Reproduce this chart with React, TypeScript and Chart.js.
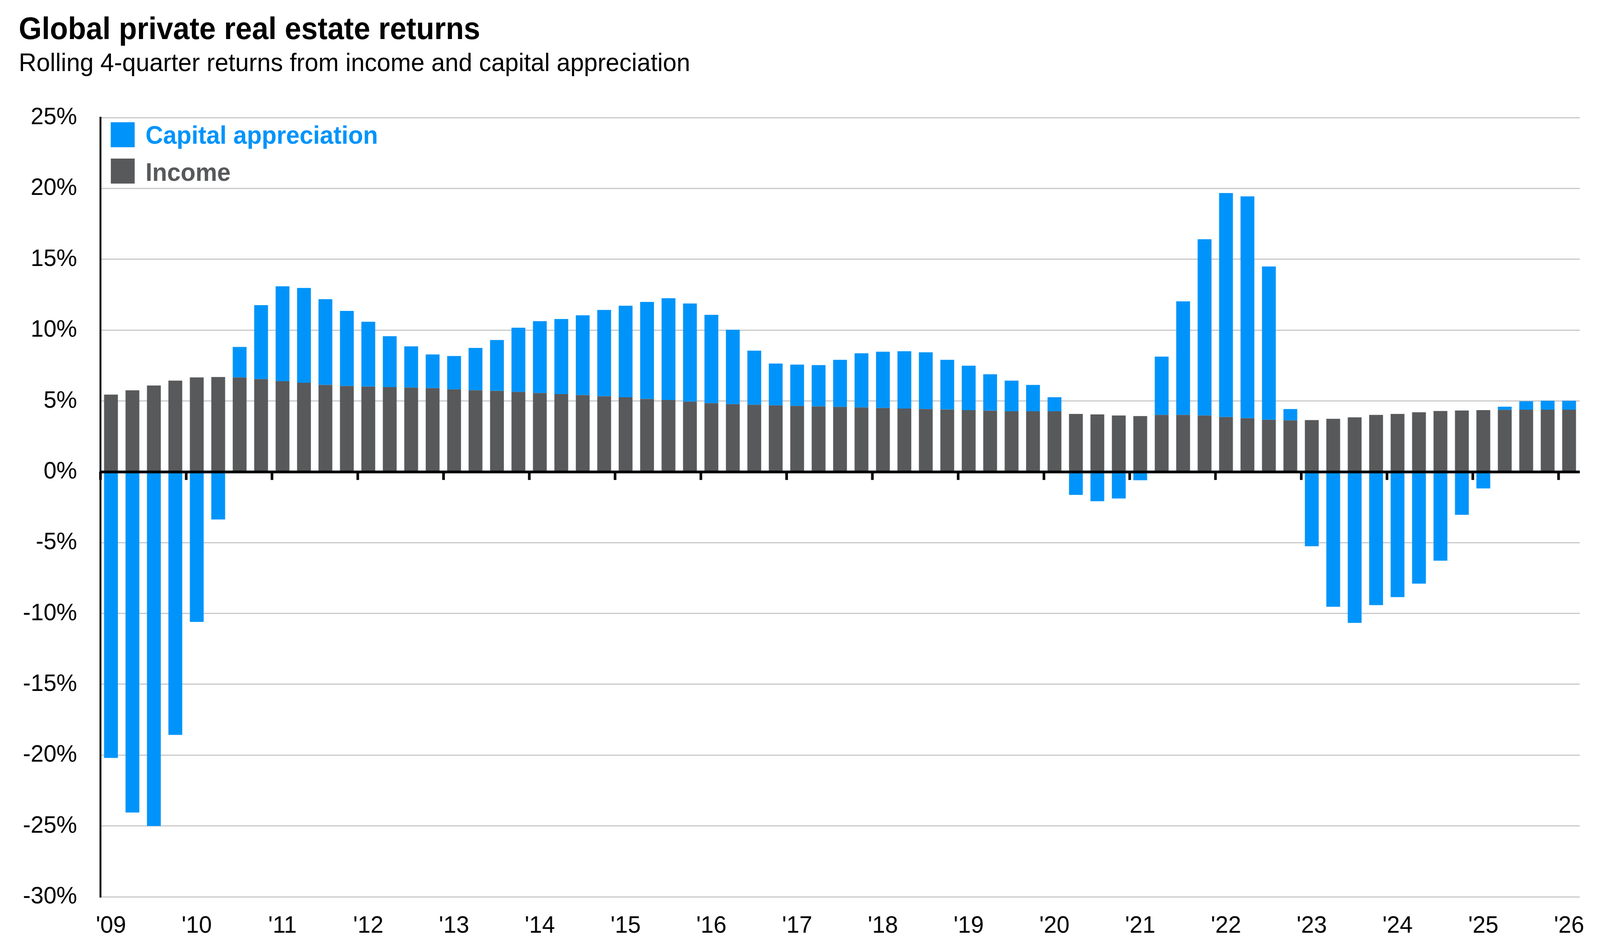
import React, { useEffect, useRef, useState } from "react";
import { Chart, registerables } from "chart.js";

Chart.register(...registerables);

const quarters = [
  "1Q09", "2Q09", "3Q09", "4Q09",
  "1Q10", "2Q10", "3Q10", "4Q10",
  "1Q11", "2Q11", "3Q11", "4Q11",
  "1Q12", "2Q12", "3Q12", "4Q12",
  "1Q13", "2Q13", "3Q13", "4Q13",
  "1Q14", "2Q14", "3Q14", "4Q14",
  "1Q15", "2Q15", "3Q15", "4Q15",
  "1Q16", "2Q16", "3Q16", "4Q16",
  "1Q17", "2Q17", "3Q17", "4Q17",
  "1Q18", "2Q18", "3Q18", "4Q18",
  "1Q19", "2Q19", "3Q19", "4Q19",
  "1Q20", "2Q20", "3Q20", "4Q20",
  "1Q21", "2Q21", "3Q21", "4Q21",
  "1Q22", "2Q22", "3Q22", "4Q22",
  "1Q23", "2Q23", "3Q23", "4Q23",
  "1Q24", "2Q24", "3Q24", "4Q24",
  "1Q25", "2Q25", "3Q25", "4Q25",
  "1Q26",
];

const yearLabels = [
  "'09", "'10", "'11", "'12", "'13", "'14", "'15", "'16", "'17",
  "'18", "'19", "'20", "'21", "'22", "'23", "'24", "'25", "'26",
];

const income = [
  5.45, 5.75, 6.09, 6.43,
  6.66, 6.69, 6.66, 6.54,
  6.39, 6.28, 6.13, 6.05,
  6.01, 5.98, 5.94, 5.90,
  5.82, 5.75, 5.71, 5.64,
  5.56, 5.48, 5.41, 5.33,
  5.26, 5.14, 5.07, 4.95,
  4.84, 4.77, 4.73, 4.69,
  4.65, 4.61, 4.58, 4.54,
  4.50, 4.46, 4.43, 4.39,
  4.35, 4.31, 4.27, 4.27,
  4.27, 4.08, 4.05, 3.97,
  3.93, 4.01, 4.01, 3.97,
  3.86, 3.78, 3.67, 3.63,
  3.65, 3.74, 3.84, 4.01,
  4.08, 4.20, 4.29, 4.32,
  4.35, 4.37, 4.38, 4.38,
  4.38,
];

const capitalAppreciation = [
  -20.2, -24.05, -25.0, -18.57,
  -10.6, -3.37, 2.15, 5.22,
  6.70, 6.69, 6.05, 5.30,
  4.58, 3.59, 2.91, 2.38,
  2.35, 2.99, 3.59, 4.53,
  5.07, 5.30, 5.63, 6.09,
  6.46, 6.85, 7.18, 6.93,
  6.24, 5.25, 3.82, 2.95,
  2.91, 2.92, 3.32, 3.82,
  3.97, 4.05, 4.00, 3.51,
  3.14, 2.57, 2.16, 1.86,
  0.99, -1.63, -2.08, -1.89,
  -0.60, 4.12, 8.02, 12.44,
  15.81, 15.66, 10.82, 0.80,
  -5.26, -9.53, -10.67, -9.41,
  -8.85, -7.90, -6.28, -3.04,
  -1.18, 0.22, 0.60, 0.63,
  0.63,
];

const yMin = -30;
const yMax = 25;
const yStep = 5;

const BLUE = "#0094FA";
const GRAY = "#58595B";
const FONT = "'Liberation Sans', Arial, 'Helvetica Neue', sans-serif";

const seriesLabels = ["Capital appreciation", "Income"];

const W = 4277;
const H = 2422;

const zeroLinePlugin = {
  id: "zeroLineAndTicks",
  afterDatasetsDraw(chart: any) {
    const { ctx, chartArea, scales } = chart;
    const x = scales.x;
    const y = scales.y;
    const y0 = y.getPixelForValue(0);
    ctx.save();
    ctx.fillStyle = "#000000";
    ctx.fillRect(chartArea.left, y0 - 3, chartArea.right - chartArea.left, 7);
    const half = (x.getPixelForValue(1) - x.getPixelForValue(0)) / 2;
    for (let i = 0; i < quarters.length; i += 4) {
      const px = x.getPixelForValue(i) - half;
      ctx.fillRect(px - 3, y0, 7, 21);
    }
    ctx.restore();
  },
};

export default function App() {
  const canvasRef = useRef<HTMLCanvasElement | null>(null);
  const [vp, setVp] = useState({ w: W, h: H });

  useEffect(() => {
    document.body.style.margin = "0";
    document.body.style.overflow = "hidden";
    setVp({ w: window.innerWidth || W, h: window.innerHeight || H });
    const canvas = canvasRef.current;
    if (!canvas) return;
    const chart = new Chart(canvas, {
      type: "bar",
      data: {
        labels: quarters,
        datasets: [
          {
            label: seriesLabels[1],
            data: income,
            backgroundColor: GRAY,
            borderWidth: 0,
            categoryPercentage: 1,
            barPercentage: 0.645,
          },
          {
            label: seriesLabels[0],
            data: capitalAppreciation,
            backgroundColor: BLUE,
            borderWidth: 0,
            categoryPercentage: 1,
            barPercentage: 0.645,
          },
        ],
      },
      options: {
        animation: false,
        responsive: false,
        devicePixelRatio: 1,
        layout: { padding: { left: 0, right: 54, top: 301, bottom: 0 } },
        plugins: {
          legend: { display: false },
          tooltip: { enabled: false },
          title: { display: false },
        },
        scales: {
          x: {
            stacked: true,
            grid: { display: false, drawTicks: false },
            border: { display: false },
            ticks: {
              autoSkip: false,
              maxRotation: 0,
              minRotation: 0,
              padding: 38,
              color: "#000000",
              font: { family: FONT, size: 62 },
              callback: (_v: any, i: number) => (i % 4 === 0 ? yearLabels[i / 4] : ""),
            },
            afterFit: (s: any) => {
              s.height = 126;
            },
          },
          y: {
            stacked: true,
            min: yMin,
            max: yMax,
            ticks: {
              stepSize: yStep,
              padding: 62,
              color: "#000000",
              font: { family: FONT, size: 62 },
              callback: (v: any) => `${v}%`,
            },
            grid: {
              color: (c: any) => (c.tick && c.tick.value === 0 ? "rgba(0,0,0,0)" : "#C9C9C9"),
              lineWidth: 3,
              drawTicks: false,
            },
            border: { display: true, color: "#000000", width: 5 },
            afterFit: (s: any) => {
              s.width = 268;
            },
          },
        },
      },
      plugins: [zeroLinePlugin],
    } as any);
    return () => {
      chart.destroy();
    };
  }, []);

  const legendItems = [
    { label: seriesLabels[0], color: BLUE, top: 313, textTop: 313 },
    { label: seriesLabels[1], color: GRAY, top: 406, textTop: 408 },
  ];

  const sx = vp.w / W;
  const sy = vp.h / H;

  return (
    <div style={{ position: "absolute", left: 0, top: 0, width: vp.w, height: vp.h, overflow: "hidden", background: "#ffffff" }}>
      <div
        style={{
          position: "absolute",
          left: 0,
          top: 0,
          width: W,
          height: H,
          background: "#ffffff",
          overflow: "hidden",
          fontFamily: FONT,
          transform: `scale(${sx}, ${sy})`,
          transformOrigin: "0 0",
        }}
      >
        <canvas ref={canvasRef} width={W} height={H} style={{ display: "block", width: W, height: H }} />
        <div
          style={{
            position: "absolute",
            left: 50,
            top: 33,
            fontSize: 79,
            lineHeight: 1,
            fontWeight: 700,
            color: "#000000",
            whiteSpace: "nowrap",
          }}
        >
          Global private real estate returns
        </div>
        <div
          style={{
            position: "absolute",
            left: 50,
            top: 127,
            fontSize: 65.5,
            lineHeight: 1,
            color: "#000000",
            whiteSpace: "nowrap",
          }}
        >
          Rolling 4-quarter returns from income and capital appreciation
        </div>
        {legendItems.map((it) => (
          <React.Fragment key={it.label}>
            <div
              style={{
                position: "absolute",
                left: 296,
                top: it.top,
                width: 64,
                height: 64,
                background: it.color,
              }}
            />
            <div
              style={{
                position: "absolute",
                left: 389,
                top: it.textTop,
                fontSize: 65,
                lineHeight: 1,
                fontWeight: 700,
                color: it.color,
                whiteSpace: "nowrap",
              }}
            >
              {it.label}
            </div>
          </React.Fragment>
        ))}
      </div>
    </div>
  );
}
